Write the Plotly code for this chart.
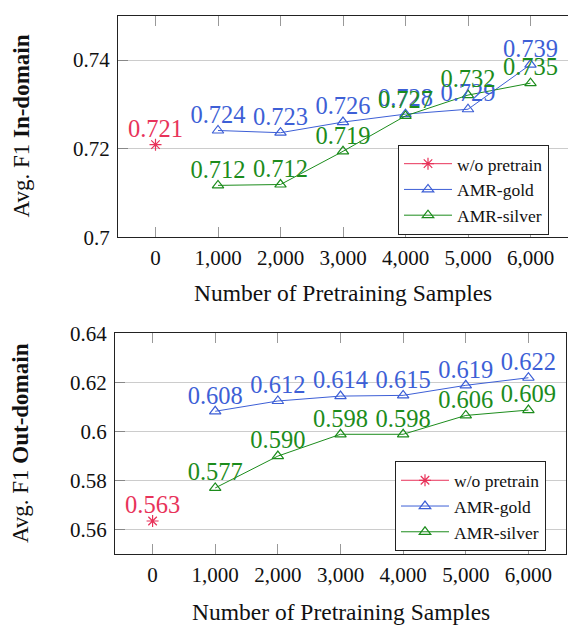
import plotly.graph_objects as go

# ---------------- data ----------------
x_base = [0]
x_samples = [1000, 2000, 3000, 4000, 5000, 6000]
x_tick_vals = [0, 1000, 2000, 3000, 4000, 5000, 6000]
x_tick_text = ["0", "1,000", "2,000", "3,000", "4,000", "5,000", "6,000"]

in_base = [0.7209]
in_base_lbl = ["0.721"]
in_gold = [0.7241, 0.7236, 0.7260, 0.7278, 0.7289, 0.7390]
in_gold_lbl = ["0.724", "0.723", "0.726", "0.728", "0.729", "0.739"]
in_silver = [0.7117, 0.7119, 0.7194, 0.7274, 0.7321, 0.7348]
in_silver_lbl = ["0.712", "0.712", "0.719", "0.727", "0.732", "0.735"]
in_ticks = [0.70, 0.72, 0.74]
in_tick_text = ["0.7", "0.72", "0.74"]

out_base = [0.5634]
out_base_lbl = ["0.563"]
out_gold = [0.6082, 0.6124, 0.6144, 0.6147, 0.6188, 0.6219]
out_gold_lbl = ["0.608", "0.612", "0.614", "0.615", "0.619", "0.622"]
out_silver = [0.5769, 0.5899, 0.5988, 0.5988, 0.6065, 0.6087]
out_silver_lbl = ["0.577", "0.590", "0.598", "0.598", "0.606", "0.609"]
out_ticks = [0.56, 0.58, 0.60, 0.62, 0.64]
out_tick_text = ["0.56", "0.58", "0.6", "0.62", "0.64"]

names = ["w/o pretrain", "AMR-gold", "AMR-silver"]

# ---------------- style ----------------
RED = "#e8335a"
BLUE = "#3d5fd6"
GREEN = "#1c8c1c"
SERIF = "Liberation Serif"
W, H = 568, 637

fig = go.Figure()


def add_panel(xa, ya, leg, base, base_lbl, gold, gold_lbl, silver, silver_lbl):
    series = [
        (x_base, base, base_lbl, RED, "asterisk-open", names[0]),
        (x_samples, gold, gold_lbl, BLUE, "triangle-up-open", names[1]),
        (x_samples, silver, silver_lbl, GREEN, "triangle-up-open", names[2]),
    ]
    for xs, ys, lbl, col, sym, nm in series:
        fig.add_trace(go.Scatter(
            x=xs, y=ys, mode="lines+markers", name=nm,
            line=dict(color=col, width=1),
            marker=dict(symbol=sym, size=10, color=col, line=dict(color=col, width=1.2)),
            xaxis=xa, yaxis=ya, legend=leg, showlegend=True, hoverinfo="skip",
        ))
    for xs, ys, lbl, col, sym, nm in series:
        fig.add_trace(go.Scatter(
            x=xs, y=ys, mode="markers+text", text=lbl, textposition="top center",
            textfont=dict(family=SERIF, size=24.5, color=col),
            marker=dict(size=1, opacity=0),
            xaxis=xa, yaxis=ya, showlegend=False, hoverinfo="skip",
        ))


add_panel("x", "y", "legend", in_base, in_base_lbl, in_gold, in_gold_lbl,
          in_silver, in_silver_lbl)
add_panel("x2", "y2", "legend2", out_base, out_base_lbl, out_gold, out_gold_lbl,
          out_silver, out_silver_lbl)

tickfont = dict(family=SERIF, size=21, color="#111")
xcommon = dict(
    range=[-600, 6600], tickvals=x_tick_vals, ticktext=x_tick_text,
    ticks="inside", ticklen=10, tickcolor="#999", tickwidth=1,
    showline=True, linecolor="#222", linewidth=1, mirror="ticks",
    showgrid=False, zeroline=False, tickfont=tickfont, ticklabelstandoff=2,
)
ycommon = dict(
    ticks="inside", ticklen=10, tickcolor="#888", tickwidth=1,
    showline=True, linecolor="#222", linewidth=1,
    showgrid=True, gridcolor="#cccccc", gridwidth=1,
    zeroline=False, tickfont=tickfont, ticklabelstandoff=3,
)
legfont = dict(family=SERIF, size=17.5, color="#111")

fig.update_layout(
    width=W, height=H,
    margin=dict(l=0, r=0, t=0, b=0),
    paper_bgcolor="white", plot_bgcolor="white",
    xaxis=dict(domain=[118 / W, 1.0], anchor="y", **xcommon),
    yaxis=dict(domain=[1 - 234 / H, 1 - 4 / H], anchor="x", range=[0.70, 0.75],
               tickvals=in_ticks, ticktext=in_tick_text, **ycommon),
    xaxis2=dict(domain=[115 / W, 566 / W], anchor="y2", **xcommon),
    yaxis2=dict(domain=[1 - 563 / H, 1 - 334 / H], anchor="x2", range=[0.55, 0.64],
                tickvals=out_ticks, ticktext=out_tick_text, mirror=True, **ycommon),
    legend=dict(x=398 / W, y=1 - 138 / H, xanchor="left", yanchor="top",
                bgcolor="white", bordercolor="#222", borderwidth=1,
                font=legfont, traceorder="normal", itemwidth=48),
    legend2=dict(x=395 / W, y=1 - 467 / H, xanchor="left", yanchor="top",
                 bgcolor="white", bordercolor="#222", borderwidth=1,
                 font=legfont, traceorder="normal", itemwidth=48),
    showlegend=True,
    annotations=[
        dict(text="Number of Pretraining Samples", xref="paper", yref="paper",
             x=343 / W, y=1 - 292 / H, xanchor="center", yanchor="middle",
             showarrow=False, font=dict(family=SERIF, size=23.5, color="#111")),
        dict(text="Number of Pretraining Samples", xref="paper", yref="paper",
             x=341 / W, y=1 - 623 / H, xanchor="center", yanchor="middle",
             showarrow=False, font=dict(family=SERIF, size=23.5, color="#111")),
        dict(text="Avg. F1 <b>In-domain</b>", xref="paper", yref="paper",
             x=22 / W, y=1 - 119 / H, xanchor="center", yanchor="middle",
             textangle=-90, showarrow=False,
             font=dict(family=SERIF, size=23, color="#111")),
        dict(text="Avg. F1 <b>Out-domain</b>", xref="paper", yref="paper",
             x=20 / W, y=1 - 448 / H, xanchor="center", yanchor="middle",
             textangle=-90, showarrow=False,
             font=dict(family=SERIF, size=23, color="#111")),
    ],
)

fig.write_html("out.html", config={"displayModeBar": False},
               post_script="document.body.style.margin='0';document.body.style.padding='0';")
